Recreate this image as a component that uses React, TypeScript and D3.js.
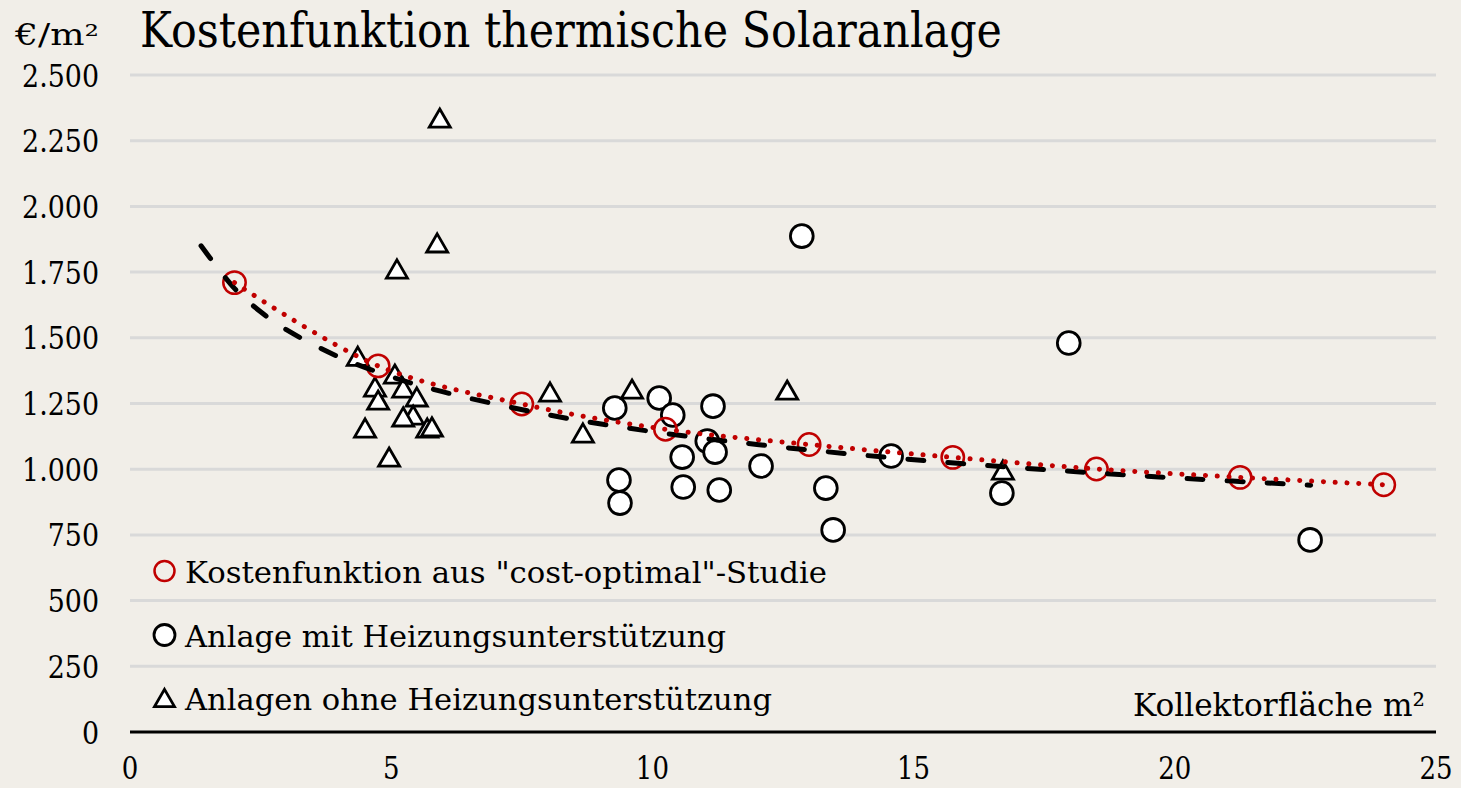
import React, { useEffect } from "react";
import * as d3 from "d3";

const W = 1461;
const H = 788;

// axis ticks
const yTicks = [0, 250, 500, 750, 1000, 1250, 1500, 1750, 2000, 2250, 2500];
const xTicks = [0, 5, 10, 15, 20, 25];

// "cost-optimal"-Studie (red circles)
const studyX = [2, 4.75, 7.5, 10.25, 13, 15.75, 18.5, 21.25, 24];
const studyY = [1710, 1393, 1248, 1152, 1094, 1045, 1001, 969, 941];

// Anlage mit Heizungsunterstützung (circles)
const heizX = [12.86, 17.97, 9.28, 10.13, 10.39, 11.16, 11.05, 11.2, 10.57, 9.36, 9.38, 10.59, 11.28, 12.08, 14.57, 13.32, 13.46, 16.69, 22.59];
const heizY = [1887, 1480, 1233, 1271, 1206, 1240, 1107, 1065, 1046, 959, 871, 932, 921, 1012, 1050, 928, 769, 909, 731];

// Anlagen ohne Heizungsunterstützung (triangles)
const ohneX = [5.93, 5.88, 5.11, 4.36, 5.07, 4.69, 4.75, 5.23, 5.49, 5.42, 5.23, 5.69, 5.78, 4.5, 4.96, 8.04, 9.61, 8.67, 12.58, 16.71];
const ohneY = [2336, 1861, 1762, 1430, 1362, 1313, 1263, 1309, 1275, 1206, 1199, 1157, 1161, 1157, 1046, 1294, 1305, 1138, 1301, 997];

// trend line (black dashed)
const trendX = [1.36, 2, 2.5, 3, 4, 5, 6, 8, 10, 12, 14, 16, 18, 20, 22.6];
const trendY = [1850, 1688, 1599, 1530, 1427, 1352, 1294, 1207, 1143, 1094, 1054, 1020, 992, 967, 939];

const legendLabels = [
  'Kostenfunktion aus "cost-optimal"-Studie',
  "Anlage mit Heizungsunterstützung",
  "Anlagen ohne Heizungsunterstützung",
];

const FONT = "'DejaVu Serif', 'Liberation Serif', serif";
const BG = "#f1eee8";
const RED = "#c00000";

const x = d3.scaleLinear().domain([0, 25]).range([130, 1436]);
const y = d3.scaleLinear().domain([0, 2500]).range([732, 75]);

const fmt = d3.formatLocale({ decimal: ",", thousands: ".", grouping: [3], currency: ["", "€"] }).format(",");

function triPath(s: number) {
  const h = (s * Math.sqrt(3)) / 2;
  return `M0,${-h / 2}L${s / 2},${h / 2}L${-s / 2},${h / 2}Z`;
}

export default function App() {
  useEffect(() => {
    document.body.style.margin = "0";
    document.body.style.background = BG;
  }, []);

  const study = studyX.map((v, i) => [v, studyY[i]] as [number, number]);
  const heiz = heizX.map((v, i) => [v, heizY[i]] as [number, number]);
  const ohne = ohneX.map((v, i) => [v, ohneY[i]] as [number, number]);
  const trend = trendX.map((v, i) => [v, trendY[i]] as [number, number]);

  const line = d3
    .line<[number, number]>()
    .x((d) => x(d[0]))
    .y((d) => y(d[1]))
    .curve(d3.curveCatmullRom);

  const tri = triPath(21);
  const legendY = [571, 635, 698];
  const legendW = [642, 541, 587];

  return (
    <svg width={W} height={H} style={{ position: "absolute", left: 0, top: 0, background: BG }} fontFamily={FONT}>
      <rect x={0} y={0} width={W} height={H} fill={BG} />
      {/* grid */}
      {yTicks.filter((t) => t > 0).map((t) => (
        <line key={t} x1={x(0)} x2={x(25)} y1={y(t)} y2={y(t)} stroke="#d9d9d9" strokeWidth={3} />
      ))}
      {/* y tick labels */}
      {yTicks.map((t) => (
        <text key={t} transform={`translate(99,${y(t) + 11.5}) scale(0.84,1)`} fontSize={32} textAnchor="end" fill="#000">
          {fmt(t)}
        </text>
      ))}
      {/* x axis */}
      <line x1={x(0)} x2={x(25)} y1={y(0)} y2={y(0)} stroke="#000" strokeWidth={3} />
      {xTicks.map((t) => (
        <text key={t} transform={`translate(${x(t)},779) scale(0.84,1)`} fontSize={31} textAnchor="middle" fill="#000">
          {t}
        </text>
      ))}
      {/* titles */}
      <text x={140} y={47} fontSize={49} textLength={862} lengthAdjust="spacingAndGlyphs" fill="#000">
        Kostenfunktion thermische Solaranlage
      </text>
      <text x={15} y={45} fontSize={29} textLength={84} lengthAdjust="spacingAndGlyphs" fill="#000">
        €/m²
      </text>
      <text x={1425} y={716} fontSize={31} textAnchor="end" textLength={292} lengthAdjust="spacingAndGlyphs" fill="#000">
        Kollektorfläche m²
      </text>

      {/* markers */}
      {heiz.map((d, i) => (
        <circle key={"h" + i} cx={x(d[0])} cy={y(d[1])} r={11.4} fill="#fff" stroke="#000" strokeWidth={2.8} />
      ))}
      {ohne.map((d, i) => (
        <path key={"o" + i} d={tri} transform={`translate(${x(d[0])},${y(d[1])})`} fill="#fff" stroke="#000" strokeWidth={2.8} strokeLinejoin="miter" />
      ))}
      {study.map((d, i) => (
        <circle key={"s" + i} cx={x(d[0])} cy={y(d[1])} r={11.2} fill="none" stroke={RED} strokeWidth={2.5} />
      ))}

      {/* trend lines */}
      <path d={line(trend) || ""} fill="none" stroke="#000" strokeWidth={5} strokeDasharray="16 24" strokeLinecap="round" />
      <path d={line(study) || ""} fill="none" stroke={RED} strokeWidth={5} strokeDasharray="0.1 11.7" strokeLinecap="round" />

      {/* legend */}
      <circle cx={164.5} cy={legendY[0]} r={10} fill="none" stroke={RED} strokeWidth={2.5} />
      <circle cx={164.5} cy={legendY[1]} r={10.5} fill="#fff" stroke="#000" strokeWidth={2.8} />
      <path d={triPath(20)} transform={`translate(164.5,${legendY[2]})`} fill="#fff" stroke="#000" strokeWidth={2.8} />
      {legendLabels.map((l, i) => (
        <text key={l} x={185} y={legendY[i] + 11.5} fontSize={30.5} textLength={legendW[i]} lengthAdjust="spacingAndGlyphs" fill="#000">
          {l}
        </text>
      ))}
    </svg>
  );
}
